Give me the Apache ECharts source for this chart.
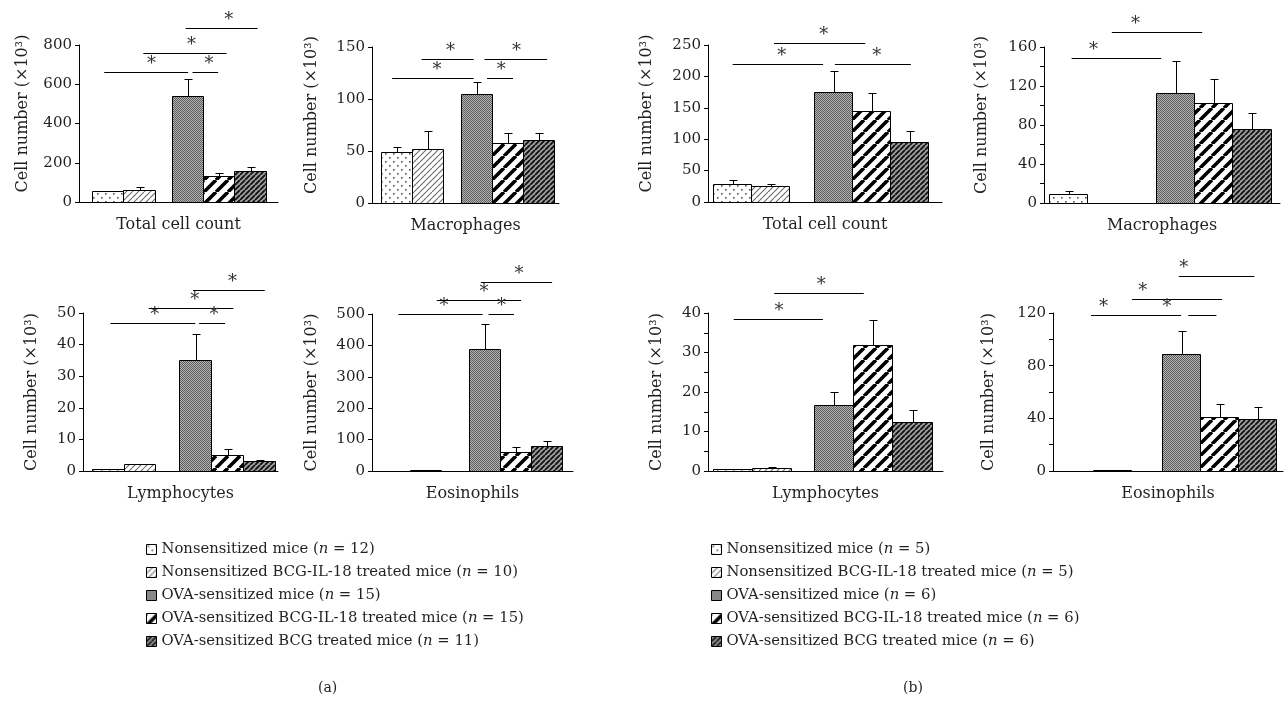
<!DOCTYPE html>
<html><head><meta charset="utf-8">
<script src="https://cdn.jsdelivr.net/npm/echarts@6/dist/echarts.min.js"></script>
<style>html,body{margin:0;padding:0;background:#fff}#c{width:1288px;height:708px}</style>
</head><body><div id="c"></div>
<script>
// ---------- data ----------
const groupsA = ['Nonsensitized mice (n = 12)','Nonsensitized BCG-IL-18 treated mice (n = 10)','OVA-sensitized mice (n = 15)','OVA-sensitized BCG-IL-18 treated mice (n = 15)','OVA-sensitized BCG treated mice (n = 11)'];
const groupsB = ['Nonsensitized mice (n = 5)','Nonsensitized BCG-IL-18 treated mice (n = 5)','OVA-sensitized mice (n = 6)','OVA-sensitized BCG-IL-18 treated mice (n = 6)','OVA-sensitized BCG treated mice (n = 6)'];
const panelTitles = ['Total cell count','Macrophages','Lymphocytes','Eosinophils'];
const yAxisName = 'Cell number (×10³)';
const panelLabels = ['(a)','(b)'];

const yMaxA = [800,150,50,500];
const yStepA = [200,50,10,100];
const yMaxB = [250,160,40,120];
const yStepB = [50,40,10,40];

// means and SEM (x10^3)
const aTotalMean = [54,59,538,132,156];   const aTotalSem = [3,16,89,17,21];
const aMacroMean = [49,52,105,58,61];     const aMacroSem = [5,17,11,9,6];
const aLymphMean = [0.5,2.2,35,5.1,3.1];  const aLymphSem = [0,0,8.4,1.9,0.3];
const aEosMean   = [0.5,2,390,62,79];     const aEosSem   = [0,0,79,13,17];
const bTotalMean = [29,26,175,145,95];    const bTotalSem = [6.5,2.7,33.5,28.7,18.6];
const bMacroMean = [9,0,113,103,76];      const bMacroSem = [3.7,0,33,24.3,16.3];
const bLymphMean = [0.4,0.8,16.8,32,12.5];const bLymphSem = [0.2,0.2,3.3,6.3,3];
const bEosMean   = [0.3,0.8,88.7,41.2,39.4]; const bEosSem = [0,0,18,10,9];

// significance brackets: [from, to, level, star position] in bar-slot units / axis values
const aTotalSig = [[-0.11,2.57,660,1.40],[1.14,3.80,757,2.68],[2.71,3.53,660,3.24],[2.49,4.79,888,3.87]];
const aMacroSig = [[-0.14,2.49,120,1.31],[0.81,2.49,138,1.74],[2.92,3.76,120,3.38],[2.84,4.86,138.6,3.87]];
const aLymphSig = [[0.08,2.76,46.7,1.48],[1.29,3.96,51.5,2.74],[2.88,3.70,46.7,3.35],[2.69,4.95,57.2,3.93]];
const aEosSig   = [[0.14,2.86,500,1.61],[1.38,4.10,544,2.90],[3.05,3.87,500,3.47],[2.80,5.10,602,4.03]];
const bTotalSig = [[0.03,2.41,219,1.32],[1.12,3.52,252.7,2.43],[2.72,4.72,219,3.82]];
const bMacroSig = [[0.09,2.43,149,0.66],[1.14,3.50,175.3,1.76]];
const bLymphSig = [[0.04,2.31,38.6,1.19],[1.07,3.35,45.1,2.27]];
const bEosSig   = [[0.44,2.81,118.5,0.77],[1.52,3.89,131,1.80],[3.00,3.74,118.5,2.44],[2.75,4.74,148,2.88]];

// ---------- layout ----------
const panels = [
  {half:0,k:0,mean:aTotalMean,sem:aTotalSem,sig:aTotalSig,left:79, top:45, width:199,height:157,pad:13, unit:31.3,gap:0.55,nameGap:48,minor:false,lift:20},
  {half:0,k:1,mean:aMacroMean,sem:aMacroSem,sig:aMacroSig,left:372,top:47, width:187,height:156,pad:9,  unit:31,  gap:0.58,nameGap:52,minor:false,lift:20},
  {half:0,k:2,mean:aLymphMean,sem:aLymphSem,sig:aLymphSig,left:83, top:313,width:195,height:158,pad:9,  unit:31.7,gap:0.76,nameGap:43,minor:false,lift:0},
  {half:0,k:3,mean:aEosMean,  sem:aEosSem,  sig:aEosSig,  left:372,top:314,width:201,height:157,pad:6.5,unit:31,  gap:0.91,nameGap:52,minor:false,lift:0},
  {half:1,k:0,mean:bTotalMean,sem:bTotalSem,sig:bTotalSig,left:708,top:45, width:234,height:157,pad:4.5,unit:38,  gap:0.67,nameGap:53,minor:false,lift:20},
  {half:1,k:1,mean:bMacroMean,sem:bMacroSem,sig:bMacroSig,left:1044,top:47,width:236,height:156,pad:5,  unit:38.3,gap:0.79,nameGap:54,minor:true,lift:20},
  {half:1,k:2,mean:bLymphMean,sem:bLymphSem,sig:bLymphSig,left:708,top:313,width:235,height:158,pad:4.5,unit:39.3,gap:0.58,nameGap:43,minor:true,lift:0},
  {half:1,k:3,mean:bEosMean,  sem:bEosSem,  sig:bEosSig,  left:1053,top:313,width:230,height:158,pad:2.3,unit:38,  gap:0.80,nameGap:56,minor:true,lift:0}
];

const FONT = 'DejaVu Serif';
const TXT = '#231f20';

// ---------- patterns ----------
function tile(w,h,draw){const c=document.createElement('canvas');c.width=w;c.height=h;const x=c.getContext('2d');draw(x,w,h);return {image:c,repeat:'repeat'};}
function diag(x,s){x.beginPath();for(let k=-1;k<=1;k++){x.moveTo(k*s,s);x.lineTo(k*s+s,0);}x.stroke();}
const patterns = [
  tile(8,8,(x)=>{x.fillStyle='#fff';x.fillRect(0,0,8,8);x.fillStyle='#555';x.fillRect(1,1,1.6,1.6);x.fillRect(5,5,1.6,1.6);}),
  tile(6,6,(x)=>{x.fillStyle='#fff';x.fillRect(0,0,6,6);x.strokeStyle='#6a6a6a';x.lineWidth=1.1;diag(x,6);}),
  tile(2,2,(x)=>{x.fillStyle='#b4b4b4';x.fillRect(0,0,2,2);x.fillStyle='#5c5c5c';x.fillRect(0,0,1,1);x.fillRect(1,1,1,1);}),
  tile(12,12,(x)=>{x.fillStyle='#fff';x.fillRect(0,0,12,12);x.strokeStyle='#000';x.lineWidth=3.6;diag(x,12);}),
  tile(5,5,(x)=>{x.fillStyle='#a0a0a0';x.fillRect(0,0,5,5);x.strokeStyle='#111';x.lineWidth=1.9;diag(x,5);})
];

// ---------- render helpers ----------
function barRenderer(pat){
  return function(params, api){
    const x=api.value(0), m=api.value(1), e=api.value(2);
    const tl=api.coord([x-0.5,m]), br=api.coord([x+0.5,0]);
    const L=Math.round(tl[0])+0.5, R=Math.round(br[0])+0.5, T=Math.round(tl[1])+0.5, B=Math.round(br[1])+0.5;
    const ch=[{type:'rect',shape:{x:L,y:T,width:R-L,height:Math.max(0,B-T)},style:{fill:pat,stroke:'#000',lineWidth:1}}];
    if(e>0){
      const top=api.coord([x,m+e]);
      const cx=Math.round((L+R)/2)+0.5, ty=Math.round(top[1])+0.5;
      ch.push({type:'line',shape:{x1:cx,y1:T,x2:cx,y2:ty},style:{stroke:'#000',lineWidth:1}});
      ch.push({type:'line',shape:{x1:cx-4,y1:ty,x2:cx+4,y2:ty},style:{stroke:'#000',lineWidth:1}});
    }
    return {type:'group',children:ch};
  };
}
function sigRender(params, api){
  const x1=api.value(0), x2=api.value(1), y=api.value(2), sx=api.value(3);
  const a=api.coord([x1,y]), b=api.coord([x2,y]), s=api.coord([sx,y]);
  const yy=Math.round(a[1])+0.5;
  return {type:'group',children:[
    {type:'line',shape:{x1:a[0],y1:yy,x2:b[0],y2:yy},style:{stroke:'#000',lineWidth:1}},
    {type:'text',x:s[0],y:yy-8,style:{text:'*',fill:'#333',font:'18px "'+FONT+'"',align:'center',verticalAlign:'middle',textAlign:'center',textVerticalAlign:'middle'}}
  ]};
}

// ---------- build option ----------
const grid=[], xAxis=[], yAxis=[], series=[];
panels.forEach((p,i)=>{
  const names = p.half===0 ? groupsA : groupsB;
  const yMax = p.half===0 ? yMaxA[p.k] : yMaxB[p.k];
  const yStep = p.half===0 ? yStepA[p.k] : yStepB[p.k];
  grid.push({left:p.left, top:p.top, width:p.width, height:p.height});
  const xmin = -(p.pad + p.unit/2)/p.unit;
  xAxis.push({type:'value', gridIndex:i, min:xmin, max:xmin + p.width/p.unit,
    axisLine:{show:true,onZero:false,lineStyle:{color:'#000',width:1}}, axisTick:{show:false}, axisLabel:{show:false}, splitLine:{show:false},
    name:panelTitles[p.k], nameLocation:'middle', nameGap:15,
    nameTextStyle:{fontFamily:FONT,fontSize:16,color:TXT,verticalAlign:'top'}});
  yAxis.push({type:'value', gridIndex:i, min:0, max:yMax, interval:yStep,
    axisLine:{show:true,onZero:false,lineStyle:{color:'#000',width:1}},
    axisTick:{show:true,length:4,lineStyle:{color:'#000'}},
    minorTick:{show:p.minor,splitNumber:2,length:4,lineStyle:{color:'#000'}},
    splitLine:{show:false},
    axisLabel:{fontFamily:FONT,fontSize:15,color:TXT,margin:7},
    name:yAxisName, nameLocation:'middle', nameGap:p.nameGap,
    nameTextStyle:{fontFamily:FONT,fontSize:16,color:TXT,padding:[0,0,0,p.lift]}});
  p.mean.forEach((m,g)=>{
    const xPos = g<2 ? g : g + p.gap;
    series.push({type:'custom', name:names[g], xAxisIndex:i, yAxisIndex:i, clip:false,
      itemStyle:{color:patterns[g], borderColor:'#000', borderWidth:1},
      renderItem:barRenderer(patterns[g]),
      encode:{x:0,y:1},
      data:[[xPos, m, p.sem[g]]], z:2, silent:true});
  });
  series.push({type:'custom', xAxisIndex:i, yAxisIndex:i, clip:false, renderItem:sigRender,
    encode:{x:[0,1],y:2}, data:p.sig, z:3, silent:true});
});

function legendFor(names, left){
  return {data:names, left:left, top:536, orient:'vertical', itemWidth:10, itemHeight:10, itemGap:6,
    selectedMode:false, icon:'rect', itemStyle:{borderColor:'#000',borderWidth:1},
    textStyle:{fontFamily:FONT,fontSize:14.8,color:TXT,lineHeight:17,
      rich:{it:{fontFamily:FONT,fontSize:14.8,color:TXT,fontStyle:'italic',lineHeight:17}}},
    formatter:n=>n.replace('(n =','({it|n} =')};
}

const option = {
  backgroundColor:'#fff',
  animation:false,
  title:[
    {text:panelLabels[0], left:313, top:676, textStyle:{fontFamily:FONT,fontSize:14,fontWeight:'normal',color:TXT}},
    {text:panelLabels[1], left:898, top:676, textStyle:{fontFamily:FONT,fontSize:14,fontWeight:'normal',color:TXT}}
  ],
  legend:[legendFor(groupsA,141), legendFor(groupsB,706)],
  grid, xAxis, yAxis, series
};
const chart = echarts.init(document.getElementById('c'), null, {renderer:'canvas'});
chart.setOption(option);
</script></body></html>
